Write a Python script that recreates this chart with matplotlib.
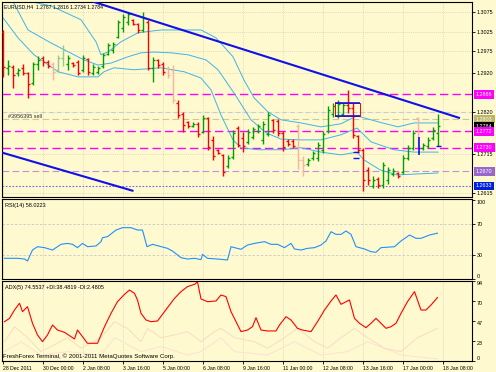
import numpy as np
import matplotlib
matplotlib.use("Agg")
import matplotlib.pyplot as plt
import matplotlib.transforms as mtransforms

plt.rcParams['font.family'] = ['Liberation Sans', 'DejaVu Sans']

#############################################################################
################################ CHART DATA #################################
#############################################################################

# EURUSD H4 bars, index 0 = 28 Dec 2011 16:00
high = [1.3029, 1.2953, 1.2940, 1.2933, 1.2943, 1.2923, 1.2948, 1.2963, 1.2963, 1.2953,
        1.2948, 1.2966, 1.2991, 1.2966, 1.2948, 1.2953, 1.2966, 1.2958, 1.2943, 1.2938,
        1.2971, 1.2996, 1.2999, 1.3055, 1.3070, 1.3075, 1.3057, 1.3047, 1.3075, 1.3055,
        1.2961, 1.2956, 1.2948, 1.2938, 1.2940, 1.2851, 1.2821, 1.2798, 1.2796, 1.2796,
        1.2813, 1.2808, 1.2760, 1.2727, 1.2714, 1.2712, 1.2775, 1.2786, 1.2770, 1.2778,
        1.2783, 1.2791, 1.2798, 1.2821, 1.2803, 1.2803, 1.2773, 1.2752, 1.2752, 1.2791,
        1.2709, 1.2704, 1.2722, 1.2745, 1.2773, 1.2836, 1.2844, 1.2851, 1.2844, 1.2877,
        1.2844, 1.2763, 1.2730, 1.2681, 1.2658, 1.2656, 1.2694, 1.2681, 1.2679, 1.2669,
        1.2712, 1.2737, 1.2775, 1.2808, 1.2742, 1.2758, 1.2783, 1.2816]
low = [1.2910, 1.2915, 1.2882, 1.2912, 1.2915, 1.2857, 1.2890, 1.2928, 1.2938, 1.2933,
       1.2902, 1.2923, 1.2938, 1.2928, 1.2935, 1.2915, 1.2923, 1.2915, 1.2915, 1.2918,
       1.2933, 1.2966, 1.2971, 1.3009, 1.3024, 1.3042, 1.3042, 1.3022, 1.3024, 1.2928,
       1.2897, 1.2933, 1.2915, 1.2907, 1.2844, 1.2806, 1.2770, 1.2780, 1.2783, 1.2758,
       1.2768, 1.2725, 1.2699, 1.2714, 1.2658, 1.2679, 1.2702, 1.2732, 1.2719, 1.2740,
       1.2752, 1.2768, 1.2740, 1.2760, 1.2768, 1.2760, 1.2722, 1.2735, 1.2730, 1.2676,
       1.2658, 1.2684, 1.2699, 1.2697, 1.2717, 1.2768, 1.2808, 1.2806, 1.2811, 1.2818,
       1.2755, 1.2719, 1.2620, 1.2636, 1.2628, 1.2628, 1.2628, 1.2638, 1.2658, 1.2653,
       1.2664, 1.2699, 1.2725, 1.2730, 1.2725, 1.2730, 1.2750, 1.2734]
opn = [1.3024, 1.2933, 1.2935, 1.2920, 1.2933, 1.2920, 1.2895, 1.2943, 1.2958, 1.2948,
       1.2943, 1.2928, 1.2958, 1.2943, 1.2945, 1.2948, 1.2928, 1.2956, 1.2920, 1.2923,
       1.2938, 1.2968, 1.2979, 1.3012, 1.3034, 1.3050, 1.3055, 1.3045, 1.3029, 1.3050,
       1.2933, 1.2953, 1.2943, 1.2933, 1.2928, 1.2844, 1.2816, 1.2796, 1.2786, 1.2791,
       1.2770, 1.2806, 1.2750, 1.2725, 1.2712, 1.2684, 1.2707, 1.2780, 1.2755, 1.2745,
       1.2758, 1.2773, 1.2750, 1.2765, 1.2801, 1.2798, 1.2768, 1.2747, 1.2747, 1.2786,
       1.2699, 1.2689, 1.2704, 1.2704, 1.2725, 1.2773, 1.2816, 1.2811, 1.2816, 1.2839,
       1.2831, 1.2760, 1.2725, 1.2674, 1.2633, 1.2651, 1.2636, 1.2648, 1.2664, 1.2666,
       1.2669, 1.2704, 1.2730, 1.2806, 1.2730, 1.2735, 1.2755, 1.2767]
close = [1.2935, 1.2938, 1.2915, 1.2928, 1.2920, 1.2892, 1.2943, 1.2953, 1.2948, 1.2938,
         1.2923, 1.2958, 1.2979, 1.2958, 1.2940, 1.2920, 1.2958, 1.2923, 1.2935, 1.2933,
         1.2966, 1.2991, 1.2994, 1.3050, 1.3062, 1.3070, 1.3045, 1.3029, 1.3060, 1.2933,
         1.2953, 1.2940, 1.2923, 1.2915, 1.2851, 1.2813, 1.2788, 1.2786, 1.2791, 1.2765,
         1.2806, 1.2732, 1.2709, 1.2717, 1.2669, 1.2704, 1.2768, 1.2737, 1.2735, 1.2770,
         1.2778, 1.2786, 1.2791, 1.2813, 1.2775, 1.2768, 1.2732, 1.2740, 1.2735, 1.2699,
         1.2686, 1.2699, 1.2717, 1.2737, 1.2765, 1.2826, 1.2836, 1.2841, 1.2839, 1.2831,
         1.2763, 1.2725, 1.2648, 1.2648, 1.2648, 1.2636, 1.2686, 1.2674, 1.2671, 1.2658,
         1.2704, 1.2730, 1.2768, 1.2735, 1.2737, 1.2750, 1.2775, 1.2784]
# bars drawn faded on the original
pale = [10, 11, 12, 33, 34, 59, 60, 83]

# Bollinger bands (bar index, price)
bb_up_x = [0, 5.6, 9.6, 15.6, 18.6, 19.6, 21, 23.6, 27, 31.6, 36.2, 39.6, 42.6, 46, 48.2,
           50.2, 53, 55.6, 59.6, 63.6, 67.6, 70.8, 75, 79, 82.2, 87]
bb_up = [1.3160, 1.3101, 1.3090, 1.3055, 1.2999, 1.2966, 1.2973, 1.2999, 1.3022, 1.3029,
         1.3029, 1.3029, 1.3009, 1.2961, 1.2902, 1.2857, 1.2821, 1.2801, 1.2793, 1.2783,
         1.2791, 1.2811, 1.2796, 1.2783, 1.2793, 1.2793]
bb_mid_x = [0, 2, 5, 9.6, 16.2, 19, 21.6, 25, 27.6, 30.2, 33.6, 37, 40.6, 43, 46.2, 49.6,
            52.6, 55.6, 59.6, 63.6, 67.6, 70.8, 73.6, 78.2, 82.2, 87]
bb_mid = [1.3135, 1.3101, 1.3029, 1.2996, 1.2953, 1.2940, 1.2945, 1.2961, 1.2971, 1.2973,
          1.2971, 1.2966, 1.2953, 1.2928, 1.2869, 1.2801, 1.2768, 1.2752, 1.2750, 1.2750,
          1.2763, 1.2780, 1.2745, 1.2725, 1.2719, 1.2719]
bb_low_x = [0, 3, 6.2, 11, 15, 19, 20.2, 22.2, 26.2, 31.6, 36.2, 39.6, 41.6, 43.6, 46, 47.6,
            51, 55.6, 59.6, 63.6, 67.6, 70.8, 72.2, 75.4, 78.8, 87]
bb_low = [1.3060, 1.3009, 1.2966, 1.2923, 1.2910, 1.2910, 1.2923, 1.2933, 1.2928, 1.2933,
          1.2923, 1.2907, 1.2877, 1.2813, 1.2750, 1.2730, 1.2725, 1.2725, 1.2730, 1.2719,
          1.2712, 1.2719, 1.2699, 1.2674, 1.2661, 1.2666]

# trend lines
trend1_x = [18.2, 91.2]
trend1_y = [1.3100, 1.2806]
trend2_x = [0, 25.9]
trend2_y = [1.2717, 1.2621]

# horizontal levels on the main chart
lvl_magenta = [1.2866, 1.2772, 1.2730]
lvl_order = 1.2803
lvl_purple = 1.2670
lvl_blue = 1.2633
bid = 1.2784

price_ticks = [1.3075, 1.3025, 1.2975, 1.2920, 1.2820, 1.2715, 1.2615]

# RSI(14)
rsi_x = [0.3, 2.9, 4.3, 4.9, 5.9, 6.9, 8.3, 9.9, 11.6, 12.9, 13.9, 14.9, 15.9, 16.9, 18.6,
         19.6, 19.9, 20.9, 22.6, 23.9, 25.6, 26.9, 27.9, 28.8, 29.9, 30.9, 32.9, 33.9, 35.6,
         36.9, 38.3, 39.6, 39.9, 40.9, 43.6, 44.9, 45.6, 47.6, 48.9, 50.3, 52.3, 53.6, 54.9,
         56.3, 57.6, 58.3, 59.6, 60.9, 62.3, 63.6, 64.6, 65.6, 66.6, 67.6, 68.6, 69.6, 70.6,
         72.3, 73.6, 74.6, 75.6, 78.3, 79.6, 81.3, 82.6, 83.6, 85.3, 86.9]
rsi = [26.2, 26.2, 25.3, 22.8, 36.7, 40.9, 39.7, 36.7, 43.9, 45.1, 43.9, 39.7, 45.1, 40.9,
       41.8, 47.3, 52.3, 53.6, 62.0, 65.0, 65.0, 62.0, 62.0, 40.9, 43.9, 42.2, 38.8, 35.4,
       27.0, 25.3, 26.2, 24.5, 31.2, 26.2, 24.9, 24.1, 40.9, 37.6, 43.0, 45.1, 47.3, 43.9,
       43.9, 39.7, 45.1, 38.0, 36.7, 38.8, 39.7, 43.0, 48.1, 59.9, 56.5, 56.5, 60.8, 56.5,
       40.9, 38.0, 34.6, 33.8, 39.7, 40.9, 48.1, 55.7, 51.5, 51.5, 55.7, 58.0]

# ADX(5) with +DI / -DI
adx_x = [0.3, 1.3, 2.3, 3.3, 3.9, 4.9, 5.9, 6.9, 7.9, 8.9, 9.9, 10.9, 12.3, 13.6, 14.3,
         14.9, 15.9, 16.9, 17.9, 18.9, 20.3, 21.6, 22.9, 24.3, 25.3, 26.3, 26.9, 27.6, 28.6,
         29.6, 30.9, 32.3, 33.3, 34.3, 35.6, 36.9, 38.3, 38.9, 39.6, 40.9, 42.6, 43.6, 44.6,
         45.6, 47.6, 48.9, 49.9, 50.6, 51.6, 52.9, 54.6, 55.3, 56.6, 57.6, 58.9, 59.9, 61.6,
         62.9, 64.3, 65.6, 66.6, 67.6, 69.3, 70.3, 71.3, 72.6, 73.6, 74.6, 75.6, 76.6, 77.6,
         78.6, 79.6, 80.9, 82.3, 83.6, 84.6, 85.6, 86.9]
adx = [46.2, 50.1, 59.9, 67.8, 58.0, 63.8, 44.3, 30.6, 22.7, 30.6, 42.3, 36.4, 33.7, 28.6,
       25.9, 36.4, 28.6, 20.8, 20.8, 20.8, 40.3, 56.0, 69.7, 78.3, 83.4, 79.5, 71.7, 56.0,
       48.2, 46.2, 47.0, 58.0, 65.8, 73.6, 81.5, 87.4, 90.1, 93.0, 72.9, 69.7, 70.5, 77.6,
       75.6, 58.0, 34.5, 36.4, 40.3, 50.9, 36.4, 35.3, 35.3, 42.3, 52.1, 48.2, 38.4, 36.4,
       34.5, 46.2, 59.9, 70.5, 77.6, 66.6, 71.7, 50.1, 44.3, 39.2, 44.3, 50.1, 44.3, 38.4,
       40.3, 44.3, 56.0, 69.7, 81.5, 59.9, 59.9, 65.8, 74.6]
pdi_x = [0.3, 2.3, 4.9, 7.6, 10.3, 12.9, 15.6, 19.6, 22.3, 24.9, 27.6, 28.9, 31.6, 34.3,
         36.9, 39.6, 42.3, 43.6, 46.3, 50.3, 52.9, 56.3, 58.9, 62.3, 64.9, 67.6, 70.3, 72.9,
         76.3, 79.6, 82.9, 86.9]
pdi = [22.7, 40.3, 27.4, 11.0, 19.1, 27.4, 15.0, 27.4, 46.2, 38.4, 22.7, 38.4, 27.4, 30.6,
       34.5, 22.7, 34.5, 38.4, 27.4, 22.7, 15.0, 27.4, 38.4, 22.7, 15.0, 27.4, 38.4, 27.4,
       15.0, 11.0, 27.4, 38.5]
mdi_x = [0.3, 3.6, 7.6, 12.9, 19.6, 22.3, 27.6, 31.6, 36.9, 39.6, 43.6, 46.3, 52.9, 58.3,
         63.6, 68.9, 72.9, 79.6, 86.9]
mdi = [11.0, 22.7, 7.0, 11.0, 7.0, 27.4, 11.0, 17.1, 7.0, 11.0, 27.4, 11.0, 7.0, 22.7, 7.0,
       11.0, 22.7, 7.0, 2.5]

date_labels = ["28 Dec 2011", "30 Dec 00:00", "2 Jan 08:00", "3 Jan 16:00", "5 Jan 00:00",
               "6 Jan 08:00", "9 Jan 16:00", "11 Jan 00:00", "12 Jan 08:00", "13 Jan 16:00",
               "17 Jan 00:00", "18 Jan 08:00"]
date_ticks = [0, 8, 16, 24, 32, 40, 48, 56, 64, 72, 80, 88]

#############################################################################
################################ FIGURE SETUP ###############################
#############################################################################

bg = '#FFF9CF'
W, H = 496.0, 372.0
fig = plt.figure(figsize=(4.96, 3.72), dpi=100, facecolor=bg)

ax = fig.add_axes([2/W, 1-197/H, 470/W, 195/H], facecolor=bg)
ax_rsi = fig.add_axes([2/W, 1-279/H, 470/W, 80/H], facecolor=bg)
ax_adx = fig.add_axes([2/W, 1-361/H, 470/W, 80/H], facecolor=bg)

for a in (ax, ax_rsi, ax_adx):
    a.set_xlim(-0.2, 93.8)
    for s in a.spines.values():
        s.set_linewidth(0.8)
        s.set_color('black')
    a.yaxis.tick_right()
    a.tick_params(axis='y', length=2, width=0.6, pad=1.5, labelsize=3.9)
    a.set_xticks(date_ticks)
    for t in date_ticks:
        a.axvline(t, color='#D6D2B8', lw=0.5, ls=(0, (1.5, 1.5)), zorder=0)
    a.tick_params(axis='x', length=0)
    a.set_xticklabels([])

#############################################################################
################################# MAIN CHART ################################
#############################################################################

ax.set_ylim(1.2605, 1.3100)
ax.set_yticks(price_ticks)
ax.set_yticklabels(["%.4f" % p for p in price_ticks])
for p in price_ticks:
    ax.axhline(p, color='#D6D2B8', lw=0.5, ls=(0, (1.5, 1.5)), zorder=0)
ax.axhline(1.2820, color='#C4CCD8', lw=0.8, ls=(0, (4, 3)), zorder=0)

# levels
for p in lvl_magenta:
    ax.axhline(p, color='#FF00FF', lw=1.0, ls=(0, (6, 3)), zorder=1)
ax.axhline(lvl_order, color='#CFC79A', lw=0.8, ls=(0, (6, 3)), zorder=1)
ax.axhline(lvl_purple, color='#C090E0', lw=0.8, ls=(0, (6, 3)), zorder=1)
ax.axhline(lvl_blue, color='#6A6AF0', lw=0.8, ls=(0, (1.5, 1.5)), zorder=1)

# bollinger bands
bb_col = '#3DB4EC'
ax.plot(bb_up_x, bb_up, color=bb_col, lw=0.7, zorder=2)
ax.plot(bb_mid_x, bb_mid, color=bb_col, lw=0.7, zorder=2)
ax.plot(bb_low_x, bb_low, color=bb_col, lw=0.7, zorder=2)

# OHLC bars
idx = np.arange(len(close))
cols = []
for i in idx:
    up = close[i] >= opn[i]
    if i in pale:
        cols.append('#8FCB8F' if up else '#F6B49C')
    else:
        cols.append('#00A000' if up else '#FF0000')
ax.vlines(idx, low, high, colors=cols, lw=1.0, zorder=3)
ax.hlines(opn, idx - 0.35, idx, colors=cols, lw=1.0, zorder=3)
ax.hlines(close, idx, idx + 0.35, colors=cols, lw=1.0, zorder=3)

# trend lines and objects
ax.plot(trend1_x, trend1_y, color='#1010E8', lw=1.5, zorder=4)
ax.plot(trend2_x, trend2_y, color='#1010E8', lw=1.5, zorder=4)
ax.plot([66.4, 66.4, 71.4, 71.4, 66.4], [1.2811, 1.2844, 1.2844, 1.2811, 1.2811],
        color='#FF0000', lw=0.7, zorder=4)
ax.hlines([1.2844, 1.2811], 66.4, 71.4, colors='#1010E8', lw=1.2, zorder=4)
ax.vlines(83.2, 1.2712, 1.2757, colors='#1010E8', lw=1.2, zorder=4)
ax.hlines([1.2719, 1.2704], 70.0, 71.2, colors='#1010E8', lw=1.0, zorder=4)
ax.hlines(1.2735, 86.6, 87.6, colors='#1010E8', lw=1.0, zorder=4)

ax.text(2/470, 1-4.5/195, "EURUSD,H4  1.2767 1.2816 1.2734 1.2784", transform=ax.transAxes,
        fontsize=3.7, va='center', ha='left', color='black')
ax.text(1.0, 1.2810, "#3956395 sell", fontsize=4, va='center', ha='left', color='#303030')

# price boxes on the right edge
tr = mtransforms.blended_transform_factory(ax.transAxes, ax.transData)
boxes = [(1.2866, '#FF00FF', 'white'), (lvl_order, '#BDB46E', '#FFFFE8'), (bid, 'black', 'white'),
         (1.2772, '#FF00FF', 'white'), (1.2730, '#FF00FF', 'white'),
         (lvl_purple, '#9966CC', 'white'), (lvl_blue, '#0020E0', 'white')]
for p, fc, tc in boxes:
    ax.text(1.0 + 4/470, p, "%.4f" % p, transform=tr, fontsize=3.9, color=tc,
            va='center', ha='left', clip_on=False,
            bbox=dict(boxstyle='square,pad=0.35', fc=fc, ec='none'))

#############################################################################
################################## RSI(14) ##################################
#############################################################################

ax_rsi.set_ylim(0, 101.3)
ax_rsi.set_yticks([0, 30, 70, 100])
ax_rsi.set_yticklabels(['0', '30', '70', '100'])
lbls = ax_rsi.get_yticklabels()
lbls[0].set_va('bottom')
lbls[-1].set_va('top')
ax_rsi.axhline(70, color='#C8C8C8', lw=0.6, ls=(0, (3, 2)))
ax_rsi.axhline(30, color='#C8C8C8', lw=0.6, ls=(0, (3, 2)))
ax_rsi.plot(rsi_x, rsi, color='#1E90FF', lw=0.8)
ax_rsi.text(3/470, 1-6/80, "RSI(14) 58.0223", transform=ax_rsi.transAxes,
            fontsize=4, va='center', ha='left')

#############################################################################
################################### ADX(5) ##################################
#############################################################################

ax_adx.set_ylim(0, 94)
ax_adx.set_yticks([0, 23, 47, 70, 94])
ax_adx.set_yticklabels(['0', '23', '47', '70', '94'])
for lb in ax_adx.get_yticklabels()[1:]:
    lb.set_va('top')
ax_adx.get_yticklabels()[0].set_va('bottom')
ax_adx.plot(pdi_x, pdi, color='#F8DCC4', lw=0.7)
ax_adx.plot(mdi_x, mdi, color='#FAE2D2', lw=0.7)
ax_adx.plot(adx_x, adx, color='#FF0000', lw=0.8)
ax_adx.text(3/470, 1-6/80, "ADX(5) 74.5537 +DI:38.4819 -DI:2.4805", transform=ax_adx.transAxes,
            fontsize=4, va='center', ha='left')
ax_adx.text(1/470, 5/80, "FreshForex Terminal, \u00a9 2001-2011 MetaQuotes Software Corp.",
            transform=ax_adx.transAxes, fontsize=4.4, va='center', ha='left')

# date axis
ax_adx.tick_params(axis='x', length=2, width=0.6, pad=1.5, labelsize=3.7)
ax_adx.set_xticklabels(date_labels, ha='left')

fig.savefig("out.png", dpi=100, facecolor=bg)
